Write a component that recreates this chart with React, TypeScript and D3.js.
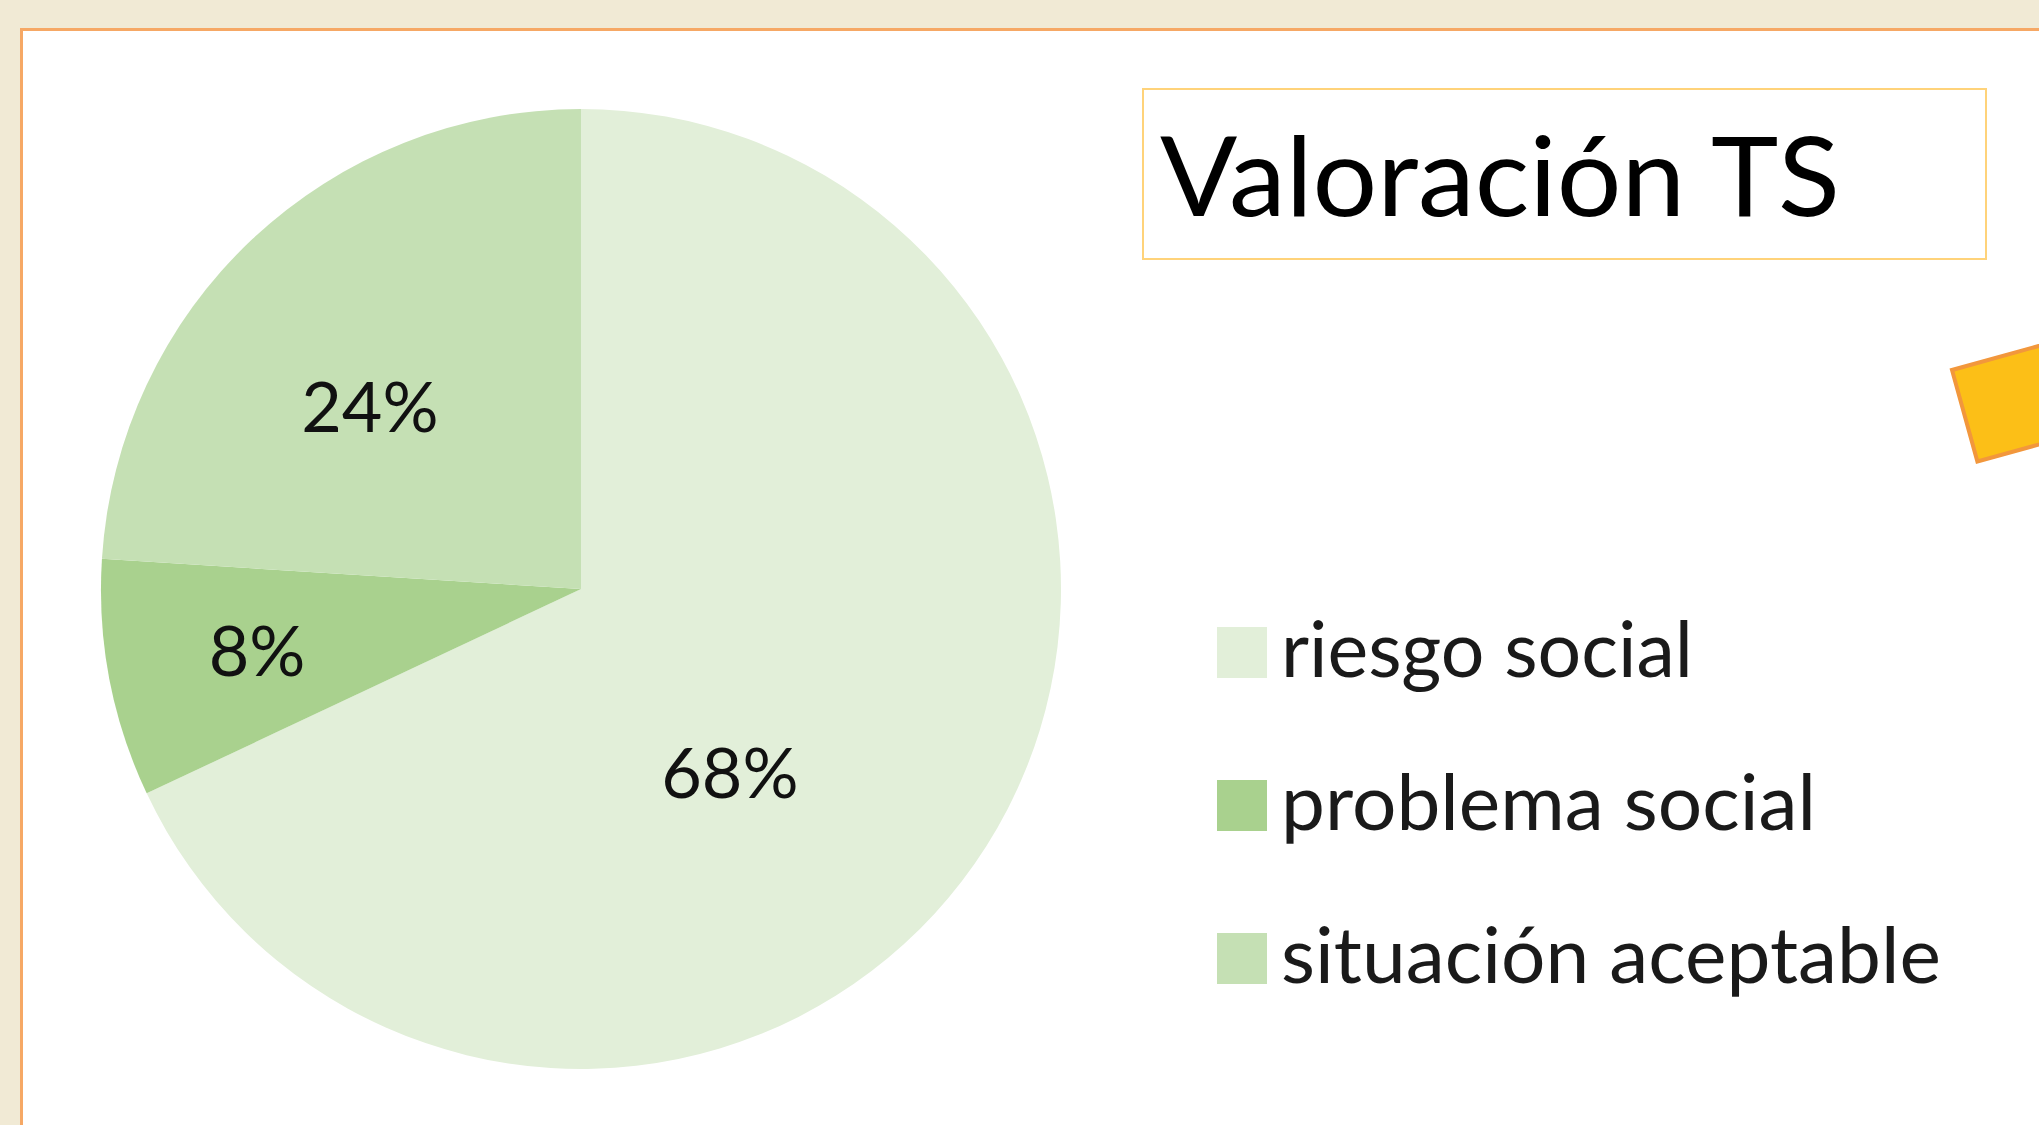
import React from "react";
import * as d3 from "d3";

const CATEGORIES = ["riesgo social", "problema social", "situación aceptable"];
const VALUES = [68, 8, 24];
const VALUE_LABELS = ["68%", "8%", "24%"];
const TITLE = "Valoración TS";

const COLORS = ["#E2EFD9", "#A9D18E", "#C5E0B4"];
// label placement styles (angle shift in degrees, radius as fraction of pie radius)
const LABEL_SHIFT = [18.6, 0, -6];
const LABEL_RADIUS = [0.493, 0.687, 0.581];
const LEGEND_TEXT_LEN = [412, 535, 660];

const W = 2039;
const H = 1125;
const CX = 581;
const CY = 589;
const R = 480;

export default function App() {
  const pie = d3
    .pie<number>()
    .sort(null)
    .value((d) => d)
    .startAngle(0)
    .endAngle(2 * Math.PI);
  const arcs = pie(VALUES);
  const arc = d3.arc<d3.PieArcDatum<number>>().innerRadius(0).outerRadius(R);

  const legendY = d3
    .scalePoint<string>()
    .domain(CATEGORIES)
    .range([677, 983]);

  const font = "Lato, 'Open Sans', sans-serif";

  return (
    <svg
      width={W}
      height={H}
      style={{ position: "fixed", left: 0, top: 0, display: "block" }}
    >
      <rect x={0} y={0} width={W} height={H} fill="#F1EAD5" />
      <rect
        x={21.5}
        y={29.5}
        width={W + 20}
        height={H + 20}
        fill="#FFFFFF"
        stroke="#F6A865"
        strokeWidth={3}
      />
      <g transform={`translate(${CX},${CY})`}>
        {arcs.map((a, i) => (
          <path key={i} d={arc(a) || ""} fill={COLORS[i]} />
        ))}
        {arcs.map((a, i) => {
          const mid = (a.startAngle + a.endAngle) / 2 + (LABEL_SHIFT[i] * Math.PI) / 180;
          const rr = LABEL_RADIUS[i] * R;
          const x = rr * Math.sin(mid);
          const y = -rr * Math.cos(mid);
          return (
            <text
              key={i}
              x={x}
              y={y + 25}
              textAnchor="middle"
              fontFamily={font}
              fontSize={70}
              fill="#111"
            >
              {VALUE_LABELS[i]}
            </text>
          );
        })}
      </g>

      <rect
        x={1143}
        y={89}
        width={843}
        height={170}
        fill="#FFFFFF"
        stroke="#FFD37A"
        strokeWidth={2}
      />
      <text
        x={1160}
        y={216}
        fontFamily={font}
        fontSize={110}
        fill="#000"
        textLength={680}
        lengthAdjust="spacingAndGlyphs"
      >
        {TITLE}
      </text>

      <g transform="translate(1952,370) rotate(-15.5)">
        <rect x={0} y={0} width={400} height={95} fill="#FCBF17" stroke="#F2973C" strokeWidth={4} />
      </g>

      {CATEGORIES.map((c, i) => {
        const by = legendY(c) as number;
        return (
          <g key={c}>
            <rect x={1217} y={by - 50} width={50} height={51} fill={COLORS[i]} />
            <text
              x={1281}
              y={by}
              fontFamily={font}
              fontSize={77}
              fill="#1a1a1a"
              textLength={LEGEND_TEXT_LEN[i]}
              lengthAdjust="spacingAndGlyphs"
            >
              {c}
            </text>
          </g>
        );
      })}
    </svg>
  );
}
